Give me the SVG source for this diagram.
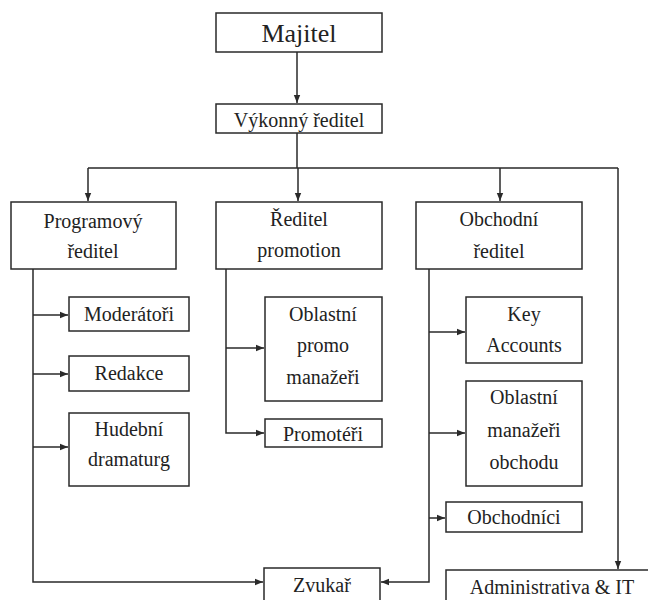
<svg xmlns="http://www.w3.org/2000/svg" width="648" height="600" viewBox="0 0 648 600" font-family="Liberation Serif, Tinos, DejaVu Serif, Times New Roman, serif">
<style>
.box{fill:#fff;stroke:#2a2a2a;stroke-width:1.5}
text{font-size:20px;fill:#222;text-anchor:middle}
.big{font-size:26px}
.c{fill:none;stroke:#2a2a2a;stroke-width:1.5}
</style>
<defs>
<marker id="a" viewBox="0 0 10 10" refX="10" refY="5" markerWidth="8" markerHeight="8" markerUnits="userSpaceOnUse" orient="auto">
<path d="M0,1 L10,5 L0,9 Z" fill="#2a2a2a"/>
</marker>
</defs>
<rect width="648" height="600" fill="#fff"/>
<g id="connectors">
<path class="c" d="M297,52 V103" marker-end="url(#a)"/>
<path class="c" d="M297,133 V168 M88,168 H618"/>
<path class="c" d="M88,168 V201" marker-end="url(#a)"/>
<path class="c" d="M298,168 V201" marker-end="url(#a)"/>
<path class="c" d="M500,168 V201" marker-end="url(#a)"/>
<path class="c" d="M618,168 V569" marker-end="url(#a)"/>
<path class="c" d="M33,269 V582 H263" marker-end="url(#a)"/>
<path class="c" d="M33,315 H68" marker-end="url(#a)"/>
<path class="c" d="M33,374 H68" marker-end="url(#a)"/>
<path class="c" d="M33,447 H68" marker-end="url(#a)"/>
<path class="c" d="M226,269 V433 H264" marker-end="url(#a)"/>
<path class="c" d="M226,348 H264" marker-end="url(#a)"/>
<path class="c" d="M429,269 V582 H381" marker-end="url(#a)"/>
<path class="c" d="M429,332 H465" marker-end="url(#a)"/>
<path class="c" d="M429,433 H465" marker-end="url(#a)"/>
<path class="c" d="M429,518 H445" marker-end="url(#a)"/>
</g>
<g id="majitel"><rect class="box" x="216" y="13" width="166" height="39"/><text class="big" x="299" y="42">Majitel</text></g>
<g id="vykonny"><rect class="box" x="216" y="104" width="166" height="29"/><text x="299" y="127">Výkonný ředitel</text></g>
<g id="programovy"><rect class="box" x="11" y="202" width="165" height="67"/><text x="93" y="228">Programový</text><text x="93" y="258">ředitel</text></g>
<g id="promotion"><rect class="box" x="216" y="202" width="166" height="67"/><text x="299" y="226">Ředitel</text><text x="299" y="257">promotion</text></g>
<g id="obchodni"><rect class="box" x="416" y="202" width="166" height="67"/><text x="499" y="226">Obchodní</text><text x="499" y="258">ředitel</text></g>
<g id="moderatori"><rect class="box" x="69" y="297" width="120" height="34"/><text x="129" y="321">Moderátoři</text></g>
<g id="redakce"><rect class="box" x="69" y="356" width="120" height="35"/><text x="129" y="380">Redakce</text></g>
<g id="hudebni"><rect class="box" x="69" y="413" width="120" height="73"/><text x="129" y="436">Hudební</text><text x="129" y="466">dramaturg</text></g>
<g id="oblastni-promo"><rect class="box" x="265" y="297" width="117" height="104"/><text x="323" y="321">Oblastní</text><text x="323" y="352">promo</text><text x="323" y="384">manažeři</text></g>
<g id="promoteri"><rect class="box" x="265" y="419" width="117" height="28"/><text x="323" y="441">Promotéři</text></g>
<g id="key"><rect class="box" x="466" y="297" width="116" height="66"/><text x="524" y="321">Key</text><text x="524" y="352">Accounts</text></g>
<g id="oblastni-obchod"><rect class="box" x="466" y="381" width="116" height="105"/><text x="524" y="404">Oblastní</text><text x="524" y="437">manažeři</text><text x="524" y="469">obchodu</text></g>
<g id="obchodnici"><rect class="box" x="446" y="502" width="136" height="30"/><text x="514" y="524">Obchodníci</text></g>
<g id="zvukar"><rect class="box" x="264" y="568" width="116" height="40"/><text x="322" y="592">Zvukař</text></g>
<g id="administrativa"><rect class="box" x="446" y="570" width="210" height="40"/><text x="552" y="594">Administrativa &amp; IT</text></g>
</svg>
